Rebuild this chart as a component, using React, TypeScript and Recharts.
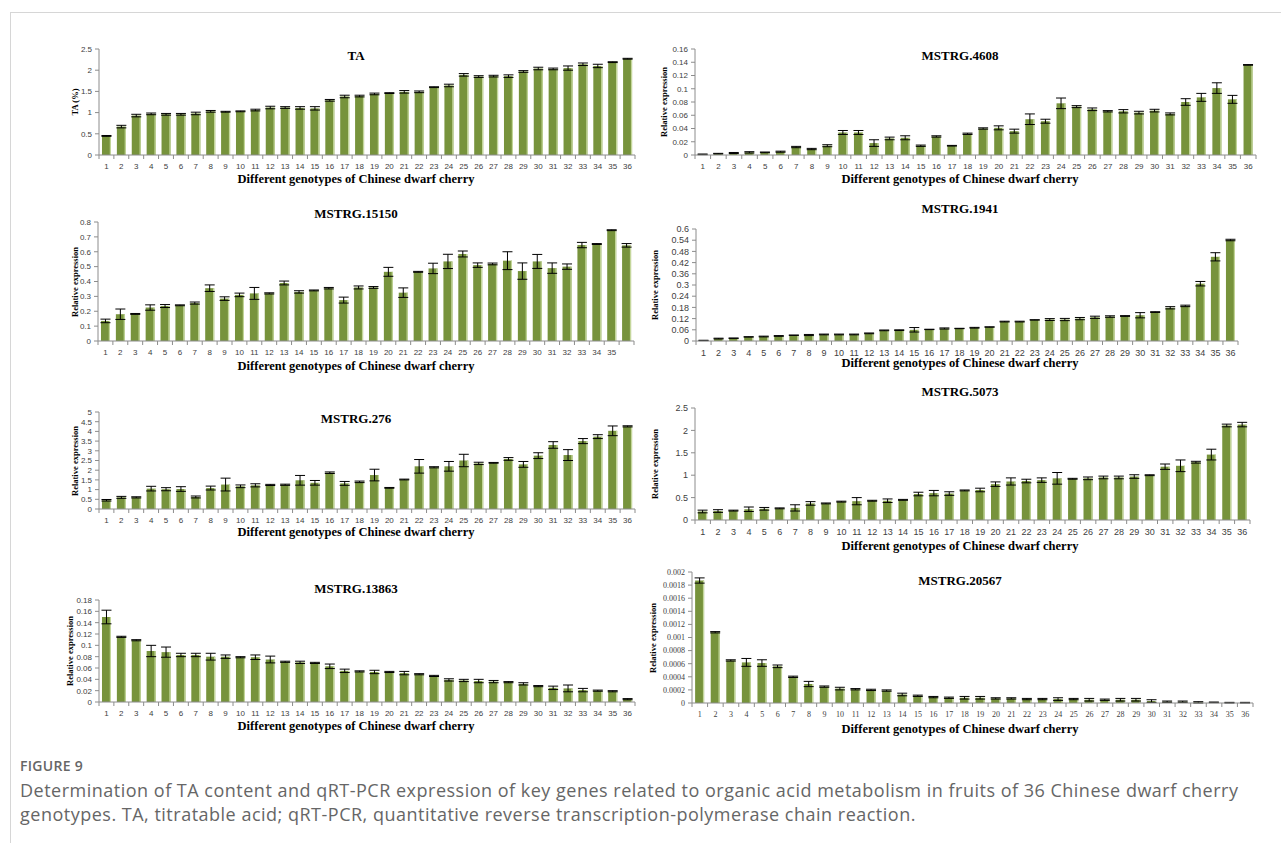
import { BarChart, Bar, XAxis, YAxis, ErrorBar } from 'recharts'

// genotype numbers on the category axis
const genotypes = [
  '1', '2', '3', '4', '5', '6', '7', '8', '9', '10', '11', '12',
  '13', '14', '15', '16', '17', '18', '19', '20', '21', '22', '23', '24',
  '25', '26', '27', '28', '29', '30', '31', '32', '33', '34', '35', '36',
]
// the MSTRG.15150 panel leaves its last category unlabelled
const genotypes15150 = [
  '1', '2', '3', '4', '5', '6', '7', '8', '9', '10', '11', '12',
  '13', '14', '15', '16', '17', '18', '19', '20', '21', '22', '23', '24',
  '25', '26', '27', '28', '29', '30', '31', '32', '33', '34', '35', '',
]

const taValues = [
  0.45, 0.67, 0.93, 0.97, 0.96, 0.96, 0.98, 1.03, 1.02, 1.03, 1.06, 1.12,
  1.12, 1.11, 1.1, 1.29, 1.38, 1.39, 1.44, 1.46, 1.49, 1.49, 1.6, 1.64,
  1.89, 1.85, 1.86, 1.86, 1.97, 2.04, 2.03, 2.05, 2.14, 2.1, 2.19, 2.27,
]
const taErrors = [
  0.01, 0.03, 0.03, 0.02, 0.02, 0.02, 0.03, 0.02, 0.01, 0.01, 0.02, 0.03,
  0.02, 0.03, 0.04, 0.02, 0.03, 0.02, 0.02, 0.01, 0.03, 0.02, 0.01, 0.03,
  0.03, 0.02, 0.02, 0.03, 0.02, 0.03, 0.02, 0.05, 0.03, 0.04, 0.01, 0.01,
]
const taTicks = [0, 0.5, 1, 1.5, 2, 2.5]

const m4608Values = [
  0.001, 0.002, 0.003, 0.004, 0.004, 0.005, 0.012, 0.009, 0.014, 0.034, 0.034, 0.018,
  0.025, 0.026, 0.014, 0.028, 0.014, 0.032, 0.04, 0.041, 0.036, 0.054, 0.051, 0.078,
  0.073, 0.069, 0.066, 0.066, 0.064, 0.067, 0.062, 0.08, 0.087, 0.101, 0.084, 0.136,
]
const m4608Errors = [
  0.0005, 0.0005, 0.0008, 0.001, 0.0005, 0.0008, 0.001, 0.001, 0.0015, 0.003, 0.003, 0.005,
  0.002, 0.003, 0.001, 0.001, 0.0005, 0.001, 0.001, 0.003, 0.003, 0.008, 0.003, 0.008,
  0.0015, 0.002, 0.001, 0.0025, 0.002, 0.002, 0.0015, 0.005, 0.006, 0.008, 0.006, 0.0005,
]
const m4608Ticks = [0, 0.02, 0.04, 0.06, 0.08, 0.1, 0.12, 0.14, 0.16]

const m15150Values = [
  0.135, 0.18, 0.182, 0.225, 0.235, 0.24, 0.255, 0.355, 0.285, 0.31, 0.32, 0.32,
  0.39, 0.33, 0.34, 0.355, 0.275, 0.36, 0.36, 0.465, 0.325, 0.465, 0.488, 0.535,
  0.585, 0.51, 0.518, 0.54, 0.47, 0.535, 0.49, 0.5, 0.645, 0.652, 0.745, 0.643,
]
const m15150Errors = [
  0.012, 0.035, 0.003, 0.018, 0.01, 0.003, 0.007, 0.022, 0.012, 0.012, 0.04, 0.004,
  0.013, 0.008, 0.003, 0.005, 0.02, 0.01, 0.006, 0.03, 0.032, 0.003, 0.035, 0.048,
  0.02, 0.015, 0.006, 0.06, 0.055, 0.047, 0.035, 0.018, 0.018, 0.003, 0.003, 0.012,
]
const m15150Ticks = [0, 0.1, 0.2, 0.3, 0.4, 0.5, 0.6, 0.7, 0.8]

const m1941Values = [
  0.003, 0.013, 0.015, 0.022, 0.024, 0.027, 0.031, 0.032, 0.035, 0.035, 0.035, 0.041,
  0.057, 0.058, 0.06, 0.062, 0.067, 0.067, 0.071, 0.075, 0.104, 0.104, 0.113, 0.115,
  0.115, 0.12, 0.127, 0.131, 0.134, 0.138, 0.155, 0.178, 0.188, 0.307, 0.451, 0.541,
]
const m1941Errors = [
  0.001, 0.002, 0.001, 0.001, 0.002, 0.002, 0.001, 0.003, 0.002, 0.002, 0.002, 0.002,
  0.002, 0.002, 0.012, 0.001, 0.003, 0.001, 0.002, 0.001, 0.002, 0.002, 0.001, 0.005,
  0.006, 0.006, 0.006, 0.004, 0.002, 0.014, 0.002, 0.006, 0.004, 0.012, 0.022, 0.004,
]
const m1941Ticks = [0, 0.06, 0.12, 0.18, 0.24, 0.3, 0.36, 0.42, 0.48, 0.54, 0.6]

const m276Values = [
  0.45, 0.6, 0.6, 1.05, 1.02, 1.03, 0.62, 1.08, 1.26, 1.17, 1.22, 1.24,
  1.25, 1.48, 1.35, 1.87, 1.32, 1.4, 1.75, 1.09, 1.52, 2.2, 2.15, 2.2,
  2.5, 2.35, 2.38, 2.58, 2.3, 2.75, 3.3, 2.78, 3.5, 3.73, 4.03, 4.26,
]
const m276Errors = [
  0.04, 0.05, 0.03, 0.12, 0.08, 0.12, 0.05, 0.1, 0.33, 0.07, 0.08, 0.03,
  0.03, 0.25, 0.12, 0.04, 0.1, 0.04, 0.3, 0.02, 0.02, 0.35, 0.03, 0.25,
  0.32, 0.06, 0.02, 0.07, 0.15, 0.15, 0.17, 0.28, 0.13, 0.1, 0.25, 0.03,
]
const m276Ticks = [0, 0.5, 1, 1.5, 2, 2.5, 3, 3.5, 4, 4.5, 5]

const m5073Values = [
  0.19, 0.2, 0.21, 0.24, 0.25, 0.26, 0.27, 0.37, 0.37, 0.41, 0.42, 0.43,
  0.43, 0.45, 0.58, 0.6, 0.59, 0.66, 0.67, 0.8, 0.86, 0.87, 0.89, 0.93,
  0.92, 0.93, 0.95, 0.95, 0.97, 1.0, 1.19, 1.21, 1.29, 1.46, 2.11, 2.13,
]
const m5073Errors = [
  0.03, 0.03, 0.01, 0.05, 0.03, 0.01, 0.07, 0.04, 0.01, 0.01, 0.08, 0.01,
  0.04, 0.01, 0.04, 0.06, 0.04, 0.01, 0.04, 0.05, 0.08, 0.04, 0.05, 0.13,
  0.01, 0.03, 0.03, 0.03, 0.04, 0.01, 0.06, 0.13, 0.02, 0.12, 0.03, 0.05,
]
const m5073Ticks = [0, 0.5, 1, 1.5, 2, 2.5]

const m13863Values = [
  0.15, 0.115, 0.109, 0.09, 0.088, 0.083, 0.083, 0.08, 0.08, 0.079, 0.079, 0.075,
  0.071, 0.07, 0.069, 0.063, 0.055, 0.054, 0.053, 0.053, 0.051, 0.049, 0.046, 0.039,
  0.038, 0.037, 0.036, 0.035, 0.032, 0.028, 0.025, 0.024, 0.021, 0.02, 0.019, 0.005,
]
const m13863Errors = [
  0.012, 0.001, 0.001, 0.01, 0.009, 0.003, 0.003, 0.006, 0.003, 0.001, 0.004, 0.006,
  0.001, 0.002, 0.001, 0.004, 0.003, 0.001, 0.003, 0.001, 0.003, 0.001, 0.001, 0.002,
  0.002, 0.003, 0.002, 0.001, 0.002, 0.001, 0.003, 0.006, 0.003, 0.001, 0.001, 0.001,
]
const m13863Ticks = [0, 0.02, 0.04, 0.06, 0.08, 0.1, 0.12, 0.14, 0.16, 0.18]

const m20567Values = [
  0.00187, 0.00108, 0.00065, 0.00062, 0.00061, 0.00056, 0.0004, 0.00029, 0.00025, 0.00022, 0.00021, 0.0002,
  0.00019, 0.00013, 0.00011, 0.00009, 0.00008, 0.00008, 0.00008, 0.00007, 0.00007, 0.00006, 0.00006, 0.00006,
  0.00006, 0.00005, 0.00005, 0.00005, 0.00005, 0.00003, 0.00002, 0.00002, 0.00001, 0.00001, 0.000005, 0.000005,
]
const m20567Errors = [
  0.00004, 0.00001, 0.00001, 0.00006, 0.00005, 0.00002, 0.00001, 0.00004, 0.00001, 0.00002, 0.00001, 0.00001,
  0.00001, 0.00002, 0.00001, 0.00001, 0.00001, 0.00002, 0.00002, 0.00001, 0.00001, 0.00001, 0.00001, 0.00002,
  0.00001, 0.00002, 0.00001, 0.00002, 0.00002, 0.00002, 0.00001, 0.00001, 0.00001, 0.000005, 0.000005, 0.000005,
]
const m20567Ticks = [
  0, 0.0002, 0.0004, 0.0006, 0.0008, 0.001, 0.0012, 0.0014, 0.0016, 0.0018, 0.002,
]

const BAR = '#77933c'
const BAR_EDGE = '#c4d79b'
const AXIS = '#8c8c8c'
const TICK_TEXT = '#404040'
const SERIF = '"Liberation Serif", "Times New Roman", serif'
const SANS = '"Liberation Sans", Arial, sans-serif'
const CAPTION_FONT = '"Open Sans", "Noto Sans", sans-serif'
const X_TITLE = 'Different genotypes of Chinese dwarf cherry'

interface Row {
  name: string
  value: number
  err: number
}

function rows(names: string[], values: number[], errors: number[]): Row[] {
  return names.map((name, i) => ({ name, value: values[i], err: errors[i] }))
}

// Excel-style column: solid olive fill with a pale right edge
function ColumnShape(props: any) {
  const { x, y, width, height } = props
  if (!height || height <= 0) return null
  return (
    <g>
      <rect x={x} y={y} width={width} height={height} fill={BAR} />
      <rect x={x + width - 1.2} y={y} width={1.2} height={height} fill={BAR_EDGE} />
    </g>
  )
}

interface Box {
  left: number
  right: number
  top: number
  bottom: number
}

interface PanelProps {
  title: string
  yLabel: string
  data: Row[]
  ticks: number[]
  box: Box
  titleX: number
  titleY: number
  xTitleY: number
  yLabelX: number
  tickFont?: string
  tickSize?: number
}

const PAD_L = 44
const PAD_R = 8
const PAD_T = 8
const AXIS_H = 22

function centered(x: number, y: number, extra: React.CSSProperties = {}, rotate = false) {
  return {
    position: 'absolute' as const,
    left: x,
    top: y,
    transform: `translate(-50%, -50%)${rotate ? ' rotate(-90deg)' : ''}`,
    whiteSpace: 'nowrap' as const,
    fontFamily: SERIF,
    fontWeight: 700,
    color: '#000',
    lineHeight: 1,
    ...extra,
  }
}

function Panel({
  title, yLabel, data, ticks, box, titleX, titleY, xTitleY, yLabelX,
  tickFont = SANS, tickSize = 8,
}: PanelProps) {
  const plotW = box.right - box.left
  const plotH = box.bottom - box.top
  const step = plotW / data.length

  // category labels with Excel's between-category tick marks
  const CategoryTick = (p: any) => {
    const { x, y, payload, index } = p
    const axisY = y - 6
    return (
      <g>
        <line x1={x - step / 2} x2={x - step / 2} y1={axisY} y2={axisY + 4} stroke={AXIS} />
        {index === data.length - 1 && (
          <line x1={x + step / 2} x2={x + step / 2} y1={axisY} y2={axisY + 4} stroke={AXIS} />
        )}
        <text x={x} y={axisY + 6 + tickSize} textAnchor="middle" fontSize={tickSize} fill={TICK_TEXT} fontFamily={tickFont}>
          {payload.value}
        </text>
      </g>
    )
  }

  return (
    <>
      <div style={{ position: 'absolute', left: box.left - PAD_L, top: box.top - PAD_T }}>
        <BarChart
          width={plotW + PAD_L + PAD_R}
          height={plotH + PAD_T + AXIS_H}
          data={data}
          margin={{ top: PAD_T, right: PAD_R, bottom: 0, left: 0 }}
          barCategoryGap="20%"
        >
          <XAxis
            dataKey="name"
            interval={0}
            height={AXIS_H}
            tickSize={4}
            tickMargin={2}
            tickLine={false}
            stroke={AXIS}
            tick={CategoryTick}
          />
          <YAxis
            width={PAD_L}
            domain={[0, ticks[ticks.length - 1]]}
            ticks={ticks}
            interval={0}
            tickSize={4}
            tickMargin={3}
            stroke={AXIS}
            tick={{ fontSize: tickSize, fill: TICK_TEXT, fontFamily: tickFont }}
            tickFormatter={(v: number) => String(v)}
          />
          <Bar dataKey="value" isAnimationActive={false} shape={ColumnShape}>
            <ErrorBar dataKey="err" width={5} stroke="#000" strokeWidth={1} />
          </Bar>
        </BarChart>
      </div>
      <div style={centered(titleX, titleY, { fontSize: 13 })}>{title}</div>
      <div style={centered(titleX, xTitleY, { fontSize: 12.5 })}>{X_TITLE}</div>
      <div style={centered(yLabelX, (box.top + box.bottom) / 2, { fontSize: 8.5 }, true)}>{yLabel}</div>
    </>
  )
}

export default function App() {
  return (
    <div
      style={{
        position: 'absolute',
        left: 0,
        top: 0,
        width: 1281,
        height: 843,
        background: '#fff',
        overflow: 'hidden',
        transform: 'translateZ(0)',
      }}
    >
      <div
        style={{
          position: 'absolute',
          left: 10,
          top: 12,
          width: 1280,
          height: 840,
          borderTop: '1.5px solid #d6d6d6',
          borderLeft: '1.5px solid #d6d6d6',
        }}
      />

      <Panel
        title="TA"
        yLabel="TA (%)"
        data={rows(genotypes, taValues, taErrors)}
        ticks={taTicks}
        box={{ left: 99, right: 635, top: 49, bottom: 155 }}
        titleX={356}
        titleY={55}
        xTitleY={179}
        yLabelX={75}
      />
      <Panel
        title="MSTRG.4608"
        yLabel="Relative expression"
        data={rows(genotypes, m4608Values, m4608Errors)}
        ticks={m4608Ticks}
        box={{ left: 695, right: 1256, top: 49, bottom: 155 }}
        titleX={960}
        titleY={55}
        xTitleY={179}
        yLabelX={664}
      />
      <Panel
        title="MSTRG.15150"
        yLabel="Relative expression"
        data={rows(genotypes15150, m15150Values, m15150Errors)}
        ticks={m15150Ticks}
        box={{ left: 98, right: 634, top: 222, bottom: 341 }}
        titleX={356}
        titleY={213}
        xTitleY={366}
        yLabelX={75}
      />
      <Panel
        title="MSTRG.1941"
        yLabel="Relative expression"
        data={rows(genotypes, m1941Values, m1941Errors)}
        ticks={m1941Ticks}
        box={{ left: 696, right: 1238, top: 229, bottom: 341 }}
        titleX={960}
        titleY={208}
        xTitleY={363}
        yLabelX={655}
        tickSize={9}
      />
      <Panel
        title="MSTRG.276"
        yLabel="Relative expression"
        data={rows(genotypes, m276Values, m276Errors)}
        ticks={m276Ticks}
        box={{ left: 99, right: 635, top: 412, bottom: 509 }}
        titleX={356}
        titleY={418}
        xTitleY={532}
        yLabelX={75}
      />
      <Panel
        title="MSTRG.5073"
        yLabel="Relative expression"
        data={rows(genotypes, m5073Values, m5073Errors)}
        ticks={m5073Ticks}
        box={{ left: 695, right: 1250, top: 408, bottom: 520 }}
        titleX={960}
        titleY={391}
        xTitleY={546}
        yLabelX={655}
        tickSize={9}
      />
      <Panel
        title="MSTRG.13863"
        yLabel="Relative expression"
        data={rows(genotypes, m13863Values, m13863Errors)}
        ticks={m13863Ticks}
        box={{ left: 99, right: 635, top: 600, bottom: 702 }}
        titleX={356}
        titleY={588}
        xTitleY={726}
        yLabelX={70}
      />
      <Panel
        title="MSTRG.20567"
        yLabel="Relative expression"
        data={rows(genotypes, m20567Values, m20567Errors)}
        ticks={m20567Ticks}
        box={{ left: 692, right: 1253, top: 572, bottom: 703 }}
        titleX={960}
        titleY={580}
        xTitleY={729}
        yLabelX={653}
        tickFont={SERIF}
      />

      <div
        style={{
          position: 'absolute',
          left: 20,
          top: 756,
          fontFamily: CAPTION_FONT,
          fontSize: 14,
          fontWeight: 600,
          color: '#666',
          letterSpacing: 0.3,
        }}
      >
        FIGURE 9
      </div>
      <div
        style={{
          position: 'absolute',
          left: 20,
          top: 778,
          fontFamily: CAPTION_FONT,
          fontSize: 18,
          lineHeight: '24px',
          letterSpacing: 0.5,
          color: '#666',
          whiteSpace: 'nowrap',
        }}
      >
        Determination of TA content and qRT-PCR expression of key genes related to organic acid metabolism in fruits of 36 Chinese dwarf cherry
        <br />
        genotypes. TA, titratable acid; qRT-PCR, quantitative reverse transcription-polymerase chain reaction.
      </div>
    </div>
  )
}
